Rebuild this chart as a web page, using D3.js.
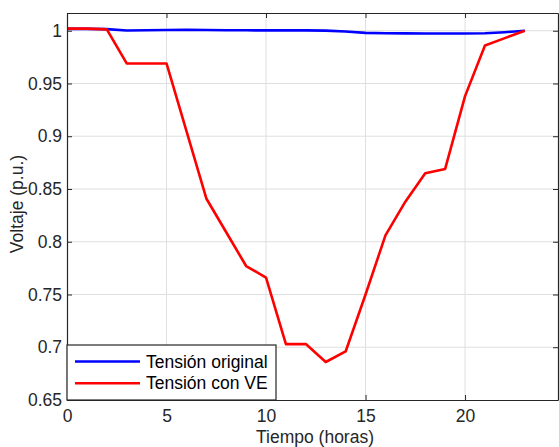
<!DOCTYPE html>
<html><head><meta charset="utf-8">
<script src="https://cdn.jsdelivr.net/npm/d3@7"></script>
<style>body{margin:0;background:#fff;} text{font-family:"Liberation Sans",Arial,sans-serif;}</style>
</head><body><svg id="c" width="559" height="447"></svg>
<script>
const hours = d3.range(0, 24);
const tensionOriginal = [1.0018,1.0018,1.0015,1.0002,1.0004,1.0007,1.0008,1.0007,1.0005,1.0004,1.0003,1.0003,1.0003,1.0001,0.9993,0.9980,0.9976,0.9975,0.9974,0.9973,0.9973,0.9976,0.9986,1.0];
const tensionVE = [1.002,1.002,1.0013,0.969,0.969,0.969,0.905,0.841,0.809,0.777,0.766,0.703,0.703,0.686,0.696,0.750,0.806,0.838,0.865,0.869,0.938,0.986,0.993,1.0];
const xTicks = [0,5,10,15,20];
const yTicks = [0.65,0.7,0.75,0.8,0.85,0.9,0.95,1];
const seriesNames = ["Tensión original","Tensión con VE"];
const seriesColors = ["#0000ff","#ff0000"];

const svg = d3.select("#c");
const L=67, R=558, T=13, B=400;
const x = d3.scaleLinear().domain([0,24.67]).range([L,R]);
const y = d3.scaleLinear().domain([0.65,1.0168]).range([B,T]);
const axisCol = "#262626";
const fs = "17.5px";

// grid
svg.append("g").selectAll("line").data(xTicks.filter(d=>d>0)).join("line")
  .attr("x1",d=>x(d)).attr("x2",d=>x(d)).attr("y1",T).attr("y2",B)
  .attr("stroke","#dfdfdf").attr("stroke-width",1);
svg.append("g").selectAll("line").data(yTicks.filter(d=>d>0.65)).join("line")
  .attr("x1",L).attr("x2",R).attr("y1",d=>y(d)).attr("y2",d=>y(d))
  .attr("stroke","#dfdfdf").attr("stroke-width",1);

// lines
const line = d3.line().x((d,i)=>x(hours[i])).y(d=>y(d));
[tensionOriginal, tensionVE].forEach((s,k)=>{
  svg.append("path").attr("d",line(s)).attr("fill","none")
    .attr("stroke",seriesColors[k]).attr("stroke-width",2.6).attr("stroke-linejoin","round");
});

// axes
const xAxis = d3.axisBottom(x).tickValues(xTicks).tickSize(-5).tickSizeOuter(0).tickPadding(10);
svg.append("g").attr("transform",`translate(0,${B})`).call(xAxis);
const yAxis = d3.axisLeft(y).tickValues(yTicks).tickSize(-5).tickSizeOuter(0).tickPadding(5).tickFormat(d=>String(+d.toFixed(2)));
svg.append("g").attr("transform",`translate(${L},0)`).call(yAxis);
const xTop = d3.axisTop(x).tickValues(xTicks).tickSize(-5).tickSizeOuter(0).tickFormat("");
svg.append("g").attr("transform",`translate(0,${T})`).call(xTop);
const yRight = d3.axisRight(y).tickValues(yTicks).tickSize(-5).tickSizeOuter(0).tickFormat("");
svg.append("g").attr("transform",`translate(${R},0)`).call(yRight);
svg.selectAll(".domain").attr("stroke",axisCol).attr("stroke-width",1.2);
svg.selectAll(".tick line").attr("stroke",axisCol);
svg.selectAll(".tick text").attr("fill",axisCol).style("font-size",fs).style("font-family","Liberation Sans, Arial, sans-serif");

// axis labels
svg.append("text").attr("x",315).attr("y",443).attr("text-anchor","middle")
  .attr("fill",axisCol).style("font-size",fs).text("Tiempo (horas)");
svg.append("text").attr("transform","translate(23,204) rotate(-90)").attr("text-anchor","middle")
  .attr("fill",axisCol).style("font-size",fs).text("Voltaje (p.u.)");

// legend
const lg = svg.append("g");
lg.append("rect").attr("x",67).attr("y",345).attr("width",209).attr("height",55)
  .attr("fill","#fff").attr("stroke",axisCol).attr("stroke-width",1.2);
seriesNames.forEach((n,i)=>{
  const yy = 361.5 + i*21.8;
  lg.append("line").attr("x1",75).attr("x2",140).attr("y1",yy).attr("y2",yy)
    .attr("stroke",seriesColors[i]).attr("stroke-width",2.6);
  lg.append("text").attr("x",146).attr("y",yy+6).attr("fill","#000").style("font-size",fs).text(n);
});
</script></body></html>
